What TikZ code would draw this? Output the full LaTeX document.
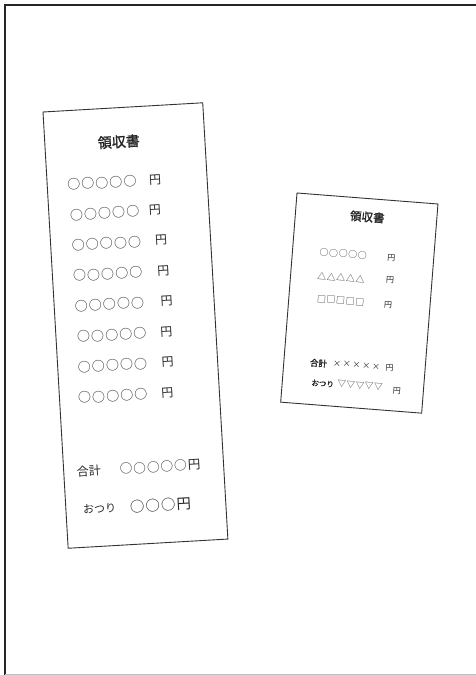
\documentclass[tikz,border=0pt]{standalone}
\usepackage{fontspec}
\newfontfamily\jp{Noto Sans CJK JP}[AutoFakeBold=1.5]
\newfontfamily\jpsp{Noto Sans CJK JP}[LetterSpace=8]
\newcommand{\jpsize}[1]{\jp\fontsize{#1}{#1}\selectfont}
\newcommand{\spsize}[1]{\jpsp\fontsize{#1}{#1}\selectfont}

\tikzset{
  slip/.style={draw=black!80, line width=0.9pt},
  jtxt/.style={inner sep=0pt, text=black!85},
  jleft/.style={jtxt, anchor=west},
}

\begin{document}
\begin{tikzpicture}[x=1pt,y=1pt]
\useasboundingbox (0,0) rectangle (476,-675);
% page frame
\draw[black!85, line width=2.5pt] (5,-675) -- (5,-5) -- (476,-5);
\draw[black!25, line width=1pt] (5,-674) -- (476,-674);

% long receipt
\begin{scope}[shift={(43,-112)}, rotate=3.3, transform shape]
\draw[slip] (0,0) rectangle (160,-437);
\node[jtxt, font=\jpsize{14}\bfseries] (ttl1) at (74,-34) {領収書};
\node[jleft, font=\spsize{13}] (c1) at (20,-74) {○○○○○};
\node[jtxt, font=\jpsize{12}] (en1) at (108,-74) {円};
\node[jleft, font=\spsize{13}] (c2) at (21,-104.5) {○○○○○};
\node[jtxt, font=\jpsize{12}] (en2) at (106,-104.5) {円};
\node[jleft, font=\spsize{13}] (c3) at (21,-135) {○○○○○};
\node[jtxt, font=\jpsize{12}] (en3) at (110.5,-135) {円};
\node[jleft, font=\spsize{13}] (c4) at (20.5,-165.5) {○○○○○};
\node[jtxt, font=\jpsize{12}] (en4) at (111,-165.5) {円};
\node[jleft, font=\spsize{13}] (c5) at (20.5,-196) {○○○○○};
\node[jtxt, font=\jpsize{12}] (en5) at (112.5,-196) {円};
\node[jleft, font=\spsize{13}] (c6) at (21,-226.5) {○○○○○};
\node[jtxt, font=\jpsize{12}] (en6) at (110.5,-226.5) {円};
\node[jleft, font=\spsize{13}] (c7) at (20,-257) {○○○○○};
\node[jtxt, font=\jpsize{12}] (en7) at (110,-257) {円};
\node[jleft, font=\spsize{13}] (c8) at (18.5,-287.5) {○○○○○};
\node[jtxt, font=\jpsize{12}] (en8) at (108,-287.5) {円};

\node[jleft, font=\jpsize{12}] (sum1) at (13,-361) {合計};
\node[jleft, font=\spsize{12.6}] (sumv1) at (56,-361) {○○○○○円};
\node[jleft, font=\jpsize{11}] (chg1) at (17,-399.5) {おつり};
\node[jleft, font=\spsize{14.4}] (chgv1) at (64,-399.5) {○○○円};
\end{scope}

% small receipt
\begin{scope}[shift={(297,-193)}, rotate=-4.46, transform shape]
\draw[slip] (0,0) rectangle (141.4,-209.8);
\node[jtxt, font=\jpsize{11.5}\bfseries] (ttl2) at (72,-18.4) {領収書};
\node[jleft, font=\spsize{8.9}] (r1) at (27,-57) {○○○○○};
\node[jtxt, font=\jpsize{8}] (yen1) at (99,-57.5) {円};
\node[jleft, font=\spsize{8.9}] (r2) at (26.5,-81) {△△△△△};
\node[jtxt, font=\jpsize{8}] (yen2) at (99.5,-80) {円};
\node[jleft, font=\spsize{8.9}] (r3) at (28,-104) {□□□□□};
\node[jtxt, font=\jpsize{8}] (yen3) at (99.5,-104.5) {円};

\node[jleft, font=\jpsize{8.5}\bfseries] (sum2) at (26,-168) {合計};
\node[jleft, font=\jpsize{8}] (sumv2) at (49,-167) {× × × × ×};
\node[jtxt, font=\jpsize{8}] (yen4) at (106,-167) {円};
\node[jleft, font=\jpsize{7.5}\bfseries] (chg2) at (29,-188) {おつり};
\node[jleft, font=\spsize{8.5}] (chgv2) at (55,-187) {▽▽▽▽▽};
\node[jtxt, font=\jpsize{8}] (yen5) at (115,-190) {円};
\end{scope}
\end{tikzpicture}
\end{document}
